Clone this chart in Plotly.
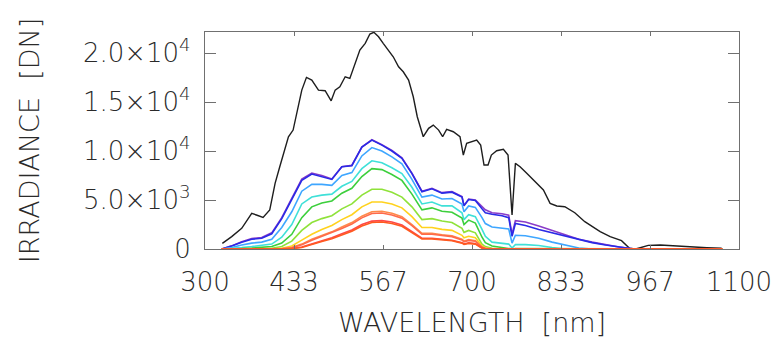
import plotly.graph_objects as go

# ---- black curve (total irradiance) ----
wl_black = [326, 340, 355, 370, 377, 387, 397, 405, 412, 425,
            432, 437, 445, 452, 460, 470, 480, 489, 495, 502,
            510, 517, 525, 532, 540, 547, 553, 560, 567, 575,
            582, 590, 597, 605, 612, 618, 627, 635, 642, 650,
            656, 662, 672, 682, 687, 692, 700, 707, 713, 718,
            724, 729, 737, 747, 754, 760, 765, 772, 782, 794,
            807, 817, 827, 839, 854, 869, 877, 892, 907, 924,
            936, 945, 952, 964, 982, 1002, 1027, 1052, 1074]
black = [580, 1260, 2110, 3640, 3470, 3230, 3980, 6700, 8400, 11460,
         12140, 13850, 16220, 17520, 17240, 16220, 16160, 15130, 16220, 16560,
         17580, 17410, 18950, 20300, 20990, 21940, 22120, 21660, 20990, 20300,
         19620, 18600, 18090, 17240, 15540, 13500, 11460, 12320, 12650, 12140,
         11460, 12210, 11970, 11460, 9590, 10790, 10950, 11120, 10610, 8570,
         8570, 9590, 10030, 10170, 9590, 3470, 8740, 8400, 7720, 6870,
         6020, 4660, 4390, 4320, 3700, 2790, 2450, 1770, 1260, 850,
         70, 0, 130, 370, 410, 310, 200, 130, 70]

# ---- coloured curves, common wavelength grid ----
wl = [325, 340, 355, 370, 385, 400, 415, 430, 445, 460,
      475, 490, 505, 520, 535, 550, 565, 580, 595, 610,
      625, 640, 655, 670, 685, 688, 695, 705, 715, 720,
      730, 745, 755, 760, 765, 780, 800, 820, 840, 860,
      880, 900, 920, 940, 960, 1000, 1040, 1075]

purple = [0, 320, 750, 1080, 1180, 1650, 3200, 5100, 7150, 7750,
          7500, 7150, 8400, 8550, 10400, 11150, 10650, 10050, 9300, 7750,
          5900, 6200, 5750, 5850, 5350, 4450, 5100, 5000, 4300, 4000,
          3700, 3600, 3450, 1500, 2900, 2750, 2350, 1900, 1450, 1000,
          700, 420, 210, 30, 0, 0, 0, 0]
blue = [0, 300, 700, 1000, 1090, 1550, 3100, 5000, 7000, 7650,
        7400, 7100, 8400, 8500, 10400, 11120, 10600, 10000, 9250, 7700,
        5850, 6150, 5700, 5800, 5300, 4400, 5050, 4950, 4100, 3700,
        3550, 3400, 3200, 1300, 2600, 2400, 2000, 1650, 1300, 950,
        650, 400, 200, 30, 0, 0, 0, 0]
lightblue = [0, 150, 400, 600, 700, 1000, 2200, 3800, 5900, 6600,
             6600, 6500, 7500, 7800, 9500, 10350, 10000, 9400, 8700, 7100,
             5300, 5500, 5100, 5150, 4600, 3800, 4400, 4250, 3200, 2600,
             2250, 2150, 2050, 600, 1400, 1350, 1100, 700, 400, 100,
             0, 0, 0, 0, 0, 0, 0, 0]
cyan = [0, 50, 150, 250, 350, 500, 1200, 2500, 4600, 5300,
        5500, 5600, 6400, 6900, 8200, 9000, 8800, 8300, 7700, 6300,
        4600, 4800, 4400, 4400, 3700, 3000, 3500, 3300, 2000, 1300,
        700, 550, 500, 100, 450, 450, 350, 150, 0, 0,
        0, 0, 0, 0, 0, 0, 0, 0]
green = [0, 0, 50, 100, 150, 250, 600, 1500, 3200, 4300,
         4700, 4900, 5700, 6200, 7400, 8200, 8100, 7600, 7000, 5600,
         4000, 4200, 3850, 3750, 3150, 2500, 2950, 2650, 1200, 650,
         300, 150, 100, 0, 50, 50, 0, 0, 0, 0,
         0, 0, 0, 0, 0, 0, 0, 0]
lime = [0, 0, 0, 0, 30, 80, 250, 800, 1900, 2700,
        3100, 3400, 4100, 4600, 5500, 6100, 6100, 5800, 5300, 4300,
        3000, 3100, 2850, 2700, 2100, 1700, 1900, 1650, 500, 250,
        80, 0, 0, 0, 0, 0, 0, 0, 0, 0,
        0, 0, 0, 0, 0, 0, 0, 0]
yellow = [0, 0, 0, 0, 0, 0, 80, 300, 900, 1500,
          2000, 2400, 3000, 3500, 4300, 4800, 4800, 4600, 4200, 3300,
          2200, 2200, 2000, 1900, 1400, 1150, 1300, 1150, 300, 100,
          0, 0, 0, 0, 0, 0, 0, 0, 0, 0,
          0, 0, 0, 0, 0, 0, 0, 0]
orange = [0, 0, 0, 0, 0, 0, 30, 150, 500, 1000,
          1400, 1750, 2250, 2700, 3350, 3800, 3850, 3650, 3300, 2500,
          1600, 1600, 1450, 1350, 1000, 800, 950, 850, 200, 60,
          0, 0, 0, 0, 0, 0, 0, 0, 0, 0,
          0, 0, 0, 0, 0, 0, 0, 0]
salmon = [0, 0, 0, 0, 0, 0, 20, 120, 430, 900,
          1300, 1620, 2100, 2550, 3180, 3620, 3680, 3480, 3150, 2380,
          1500, 1500, 1360, 1260, 930, 740, 880, 790, 180, 50,
          0, 0, 0, 0, 0, 0, 0, 0, 0, 0,
          0, 0, 0, 0, 0, 0, 0, 0]
red = [0, 0, 0, 0, 0, 0, 0, 50, 200, 500,
       850, 1150, 1550, 1950, 2500, 2850, 2900, 2750, 2450, 1800,
       1100, 1100, 1000, 900, 650, 520, 620, 550, 100, 20,
       0, 0, 0, 0, 0, 0, 0, 0, 0, 0,
       0, 0, 0, 0, 0, 0, 0, 0]
red2 = [0, 0, 0, 0, 0, 0, 0, 30, 160, 430,
        760, 1050, 1430, 1820, 2350, 2700, 2750, 2600, 2320, 1700,
        1030, 1030, 930, 840, 600, 480, 570, 500, 80, 10,
        0, 0, 0, 0, 0, 0, 0, 0, 0, 0,
        0, 0, 0, 0, 0, 0, 0, 0]

series = [
    ("purple", purple, "#8a3cc8"),
    ("blue", blue, "#2a2ae6"),
    ("lightblue", lightblue, "#3ea6ff"),
    ("cyan", cyan, "#3fe0d8"),
    ("green", green, "#3ccf3c"),
    ("lime", lime, "#8fe23a"),
    ("yellow", yellow, "#ffd21e"),
    ("orange", orange, "#ff8a4a"),
    ("salmon", salmon, "#ff6a4a"),
    ("red", red, "#ff4848"),
    ("red2", red2, "#ff5a20"),
]

x_ticks = [300, 433.333, 566.667, 700, 833.333, 966.667, 1100]
x_labels = ["300", "433", "567", "700", "833", "967", "1100"]
y_ticks = [0, 5000, 10000, 15000, 20000]
y_labels = ["0", "5.0×10<sup>3</sup>", "1.0×10<sup>4</sup>",
            "1.5×10<sup>4</sup>", "2.0×10<sup>4</sup>"]

fig = go.Figure()
fig.add_trace(go.Scatter(x=wl_black, y=black, mode="lines",
                         line=dict(color="#1e1e1e", width=1.4), name="total"))
for name, vals, col in series:
    fig.add_trace(go.Scatter(x=wl, y=vals, mode="lines",
                             line=dict(color=col, width=1.6), name=name))

font_family = "DejaVu Sans, sans-serif"
title_font = dict(family=font_family, size=27, color="#2a2a2a", weight=200)
axis_common = dict(showline=True, linecolor="#707070", linewidth=1.2,
                   mirror="ticks", ticks="inside", tickcolor="#707070",
                   tickwidth=1.2, showgrid=False, zeroline=False,
                   tickfont=dict(family=font_family, size=26, color="#2a2a2a", weight=200))

fig.update_layout(
    width=766, height=330,
    margin=dict(l=197, r=35, t=24, b=89, autoexpand=False),
    plot_bgcolor="white", paper_bgcolor="white",
    showlegend=False,
    font=dict(family=font_family, color="#2a2a2a"),
    xaxis=dict(range=[300, 1100], tickvals=x_ticks, ticktext=x_labels,
               ticklen=4, ticklabelstandoff=10,
               title=dict(text="WAVELENGTH\u00a0\u00a0[nm]", standoff=18, font=title_font),
               **axis_common),
    yaxis=dict(range=[0, 22150], tickvals=y_ticks, ticktext=y_labels,
               ticklen=11, ticklabelstandoff=8,
               title=dict(text="IRRADIANCE\u00a0\u00a0[DN]", standoff=35, font=title_font),
               **axis_common),
)

fig.write_html("out.html")
